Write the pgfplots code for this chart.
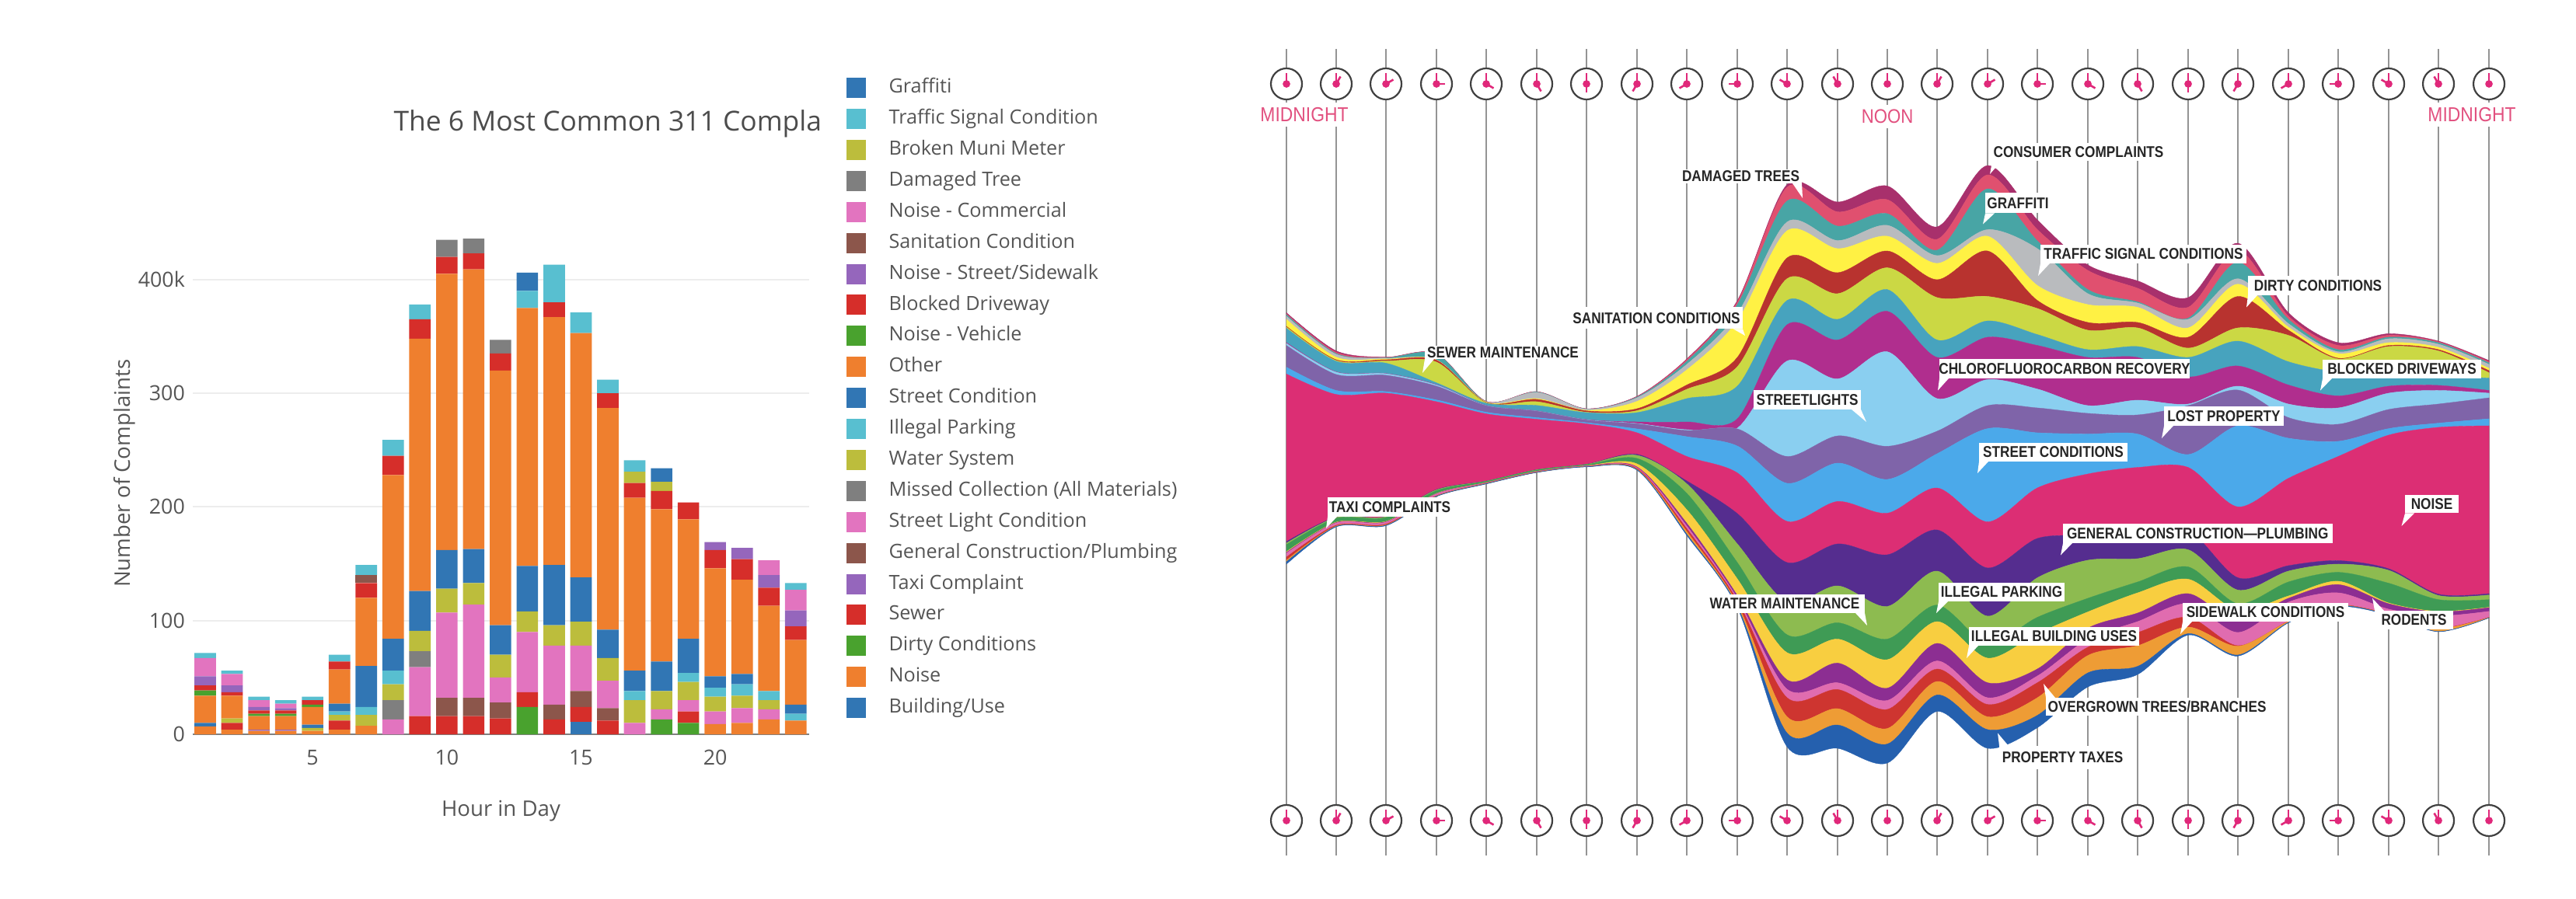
\documentclass[border=0pt]{standalone}
\usepackage{fontspec}
\usepackage{pgfplots}
\usepackage{pgfplotstable}
\usepgfplotslibrary{fillbetween}
\pgfplotsset{compat=1.18}
\setmainfont{Open Sans}
\newfontfamily\labfont[FakeStretch=0.86]{Liberation Sans}
\newfontfamily\pinkfont[FakeStretch=0.88]{Liberation Sans}

% bar chart palette
\definecolor{cblue}{HTML}{3176B4}
\definecolor{ccyan}{HTML}{58BFD0}
\definecolor{colive}{HTML}{BCBD3C}
\definecolor{cgray}{HTML}{7F7F7F}
\definecolor{cpink}{HTML}{E274BF}
\definecolor{cbrown}{HTML}{8C564B}
\definecolor{cpurple}{HTML}{9566BC}
\definecolor{cred}{HTML}{D62E2A}
\definecolor{cgreen}{HTML}{49A22E}
\definecolor{corange}{HTML}{EF7F2E}
\definecolor{txt}{HTML}{555555}
% stream palette, top band first
\definecolor{s0}{HTML}{A8306C}
\definecolor{s1}{HTML}{E0506F}
\definecolor{s2}{HTML}{48A5A5}
\definecolor{s3}{HTML}{B9BBBE}
\definecolor{s4}{HTML}{FFF144}
\definecolor{s5}{HTML}{B8332F}
\definecolor{s6}{HTML}{CBD844}
\definecolor{s7}{HTML}{47A3BE}
\definecolor{s8}{HTML}{B02E8E}
\definecolor{s9}{HTML}{8ACFF0}
\definecolor{s10}{HTML}{7F64A9}
\definecolor{s11}{HTML}{4BA9EA}
\definecolor{s12}{HTML}{DC2E74}
\definecolor{s13}{HTML}{552D8F}
\definecolor{s14}{HTML}{8DBB50}
\definecolor{s15}{HTML}{3F9B55}
\definecolor{s16}{HTML}{F8CE40}
\definecolor{s17}{HTML}{8C2E92}
\definecolor{s18}{HTML}{E06CAF}
\definecolor{s19}{HTML}{CE3530}
\definecolor{s20}{HTML}{EE9C35}
\definecolor{s21}{HTML}{2560AE}
\definecolor{clockpink}{HTML}{E0287A}
\definecolor{midpink}{HTML}{E2507F}

% hour, then the 21 complaint types from the bottom of the stack up
\pgfplotstableread{
h  B  N  D  S  T  G  L  M  W  I  C  O   V   K  R  A  P  E  U  F   Z
1  0  7  0  0  0  0  0  0  0  0  3  24  4.5 4.5 8 0  16 0  0  4.5 0
2  0  4  0  6  0  0  0  0  4  0  0  20  0   3  6  0  10 0  0  3   0
3  0  3  0  0  1  0  0  0  0  0  0  12  2   3  3  0  6  0  0  3   0
4  0  3  0  0  1  0  0  0  0  0  0  12  2   3  2  0  4  0  0  3   0
5  0  3  0  0  0  0  0  0  2.5 0 3  15.5 2  4  0  0  0  0  0  3   0
6  0  4  0  8  0  0  0  0  5  3  7  30  0   7  0  0  0  0  0  6   0
7  0  7.5 0 0  0  0  0  0  9.5 7 36 60  0   13 0  7  0  0  0  9   0
8  0  0  0  0  0  0  13 17 14 12 28 144 0   17 0  0  0  0  0  14  0
9  0  0  0  16 0  0  43 14 18 0  35 222 0   17 0  0  0  0  0  13  0
10 0  0  0  16 0  16 75 0  21 0  34 243 0   15 0  0  0  15 0  0   0
11 0  0  0  16 0  16 82 0  19 0  30 246 0   14 0  0  0  13 0  0   0
12 0  0  0  14 0  14 22 0  20 0  26 224 0   15 0  0  0  12 0  0   0
13 0  0  24 13 0  0  53 0  18 0  40 227 0   0  0  0  0  0  0  15  16
14 0  0  0  13 0  13 52 0  18 0  53 218 0   13 0  0  0  0  0  33  0
15 11 0  0  13 0  14 40 0  21 0  39 215 0   0  0  0  0  0  0  18  0
16 0  0  0  12 0  11 24 0  20 0  25 195 0   13 0  0  0  0  0  12  0
17 0  0  0  0  0  0  10 0  20 8  18 152 0   13 0  0  0  0  10 10  0
18 0  0  13 0  0  0  9  0  16 0  26 134 0   16 0  0  0  0  8  0   12
19 0  0  10 10 0  0  10 0  16 8  30 105 0   15 0  0  0  0  0  0   0
20 0  9  0  0  0  0  11 0  13 8  10 95  0   16 7  0  0  0  0  0   0
21 0  10 0  0  0  0  13 0  11 10 9  83  0   18 10 0  0  0  0  0   0
22 0  13 0  0  0  0  9  0  8  8  0  75  0   16 11 0  13 0  0  0   0
23 0  12 0  0  0  0  0  0  0  6  8  57  0   12 14 0  18 0  0  6   0
}\bars

% boundaries of the stream, in picture pixels, top edge first
\pgfplotstableread{
x b0 b1 b2 b3 b4 b5 b6 b7 b8 b9 b10 b11 b12 b13 b14 b15 b16 b17 b18 b19 b20 b21 b22
1655 402.5 404 405 407 411 420 421 422.5 441 442 444.6 472.6 481.4 697 699 701 710 711 712 717 721 723 726
1719 451.6 453.4 455 456 459.7 463 464 465 478.6 479 482 502.5 507.7 665.4 666 667 672 672.5 673 676 677 677.5 678
1783 459.7 460 460.5 461 462 463 464.6 467.4 480.7 481 483 504 506 664.7 665 666 671 671.5 672 674.5 675.5 676 676.5
1848 455 455.3 455.6 463 463.3 463.6 466 492.7 495 495.5 497 514.7 517 630 630.5 631.5 635 635.3 635.6 638 638.4 638.7 639
1912 516.5 516.7 517 517.2 517.5 518 518.5 519 521.8 522 522.2 530.5 532.6 619 619.2 619.5 621 621.2 621.4 622 622.3 622.5 622.8
1977 504 504.2 504.5 505 513 514 517 521.8 528.8 529 529.2 537.5 539.6 604.4 604.6 605 606.5 606.7 606.9 607.4 607.7 607.9 608.1
2041 526 526.2 526.4 526.6 528 528.8 530.5 531 540 540.3 540.6 544 545.5 597.4 597.6 598 599.3 599.5 599.7 600.2 600.4 600.6 600.9
2106 510 510.5 511 512 516.5 526 528.5 531 543 545 545.5 552 557 584.7 586 590 597 601 602 603 604 604.5 605
2170 462 463 465 469 476 495.5 501 513 543 553 554 562 587.5 619 622.6 635 656 673.5 677 680.5 684 687.5 689
2235 387 389 392 404 413 460 472 497 539 551 552 574 608.6 661 700 724 745 766.4 770 772.7 777 780 782
2299 237.6 241 258.7 285.7 297 332 358.7 386.7 418 464.6 587.5 622 671 724 775 817 840 875 887 898 922.5 943.5 961
2364 260 272.7 291 309.6 320 351 378 411 437.6 487.7 561 596 645.4 700 754 801.5 822.5 853.4 878.7 887.4 912 933 963
2428 239.4 257 275 290 304 323 344.6 372.7 400.7 452.7 574.4 617 660.5 714 780.5 822.5 849 885.7 901.5 913 937.6 957.6 982
2492 292 308 322 329 339 360 383 437.6 460 513 555 584 628 682 735 778.7 800 828 850.6 861 877 894.4 915.5
2557 213 225 243 295.5 304 323 381.5 413 434 488.5 522 551.6 671.7 731 793 828 847 878.7 898 906.7 922.5 939 963
2621 283 295.5 310 320 367.4 386.7 397 430.6 444.6 500.7 525 557 628 693 743.6 794.5 815.5 861 870 878.7 898 920.7 936.5
2686 341 348 372.7 378 392 415 425 450 460 522 532 558.6 610 689 721 770 787.5 808.5 822.5 833 843.6 866 884
2750 361.5 371 388.5 390 395.5 415 422 446 460 515 534 558.6 601.6 686 719 749 763 789 800 814 831 857.6 868
2815 383 395.5 409.5 411 422 434 448 460 485 520 522 585 601.6 682 707.5 729.6 745.4 764 777 794.5 807 815.5 817.3
2879 313 322 337.6 358.7 365.7 381.5 422 439 471 497 502 548 652.4 743.6 759.4 777 785.7 800 814 831 831.7 843 844.3
2944 402.5 407 411 416.5 421 425 431.6 465.6 495.5 520 537.5 564 615.6 728 735 749 767 770 775 799.7 800 801 801.5
3008 441 444.6 450 452.7 455 461 462 479 509.5 525 546 568 587.5 721.5 726 736.6 748 752.4 763 778.7 779 779.5 780.5
3073 429.5 431.5 434 436 441 444.6 446 479.7 497 506 527 551.6 560 732 734 750.6 776 777 784 790 790.5 791 791.3
3137 439 440 441 443 447 450 451.6 483 496 502.5 520 544.6 550 764.7 766.4 771.7 786.8 787.5 792.7 808.5 809 812.7 813
3202 464 465.5 467 469 474 477 479.7 486.7 502.5 506 512 539 548 764 765.7 771.7 781.5 782 786.8 794.5 794.8 795 795.2
}\stream

% clock positions and hour hand offsets
\pgfplotstableread{
x u v
1655 0 -11
1719 5.5 -9.5
1783 9.5 -5.5
1848 11 0
1912 9.5 5.5
1977 5.5 9.5
2041 0 11
2106 -5.5 9.5
2170 -9.5 5.5
2235 -11 0
2299 -9.5 -5.5
2364 -5.5 -9.5
2428 0 -11
2492 5.5 -9.5
2557 9.5 -5.5
2621 11 0
2686 9.5 5.5
2750 5.5 9.5
2815 0 11
2879 -5.5 9.5
2944 -9.5 5.5
3008 -11 0
3073 -9.5 -5.5
3137 -5.5 -9.5
3202 0 -11
}\clocks

% one boundary of the stream
\newcommand{\edge}[1]{\addplot[draw=none,smooth,name path=b#1,forget plot] table[x=x,y=b#1]{\stream};}
% one band between two boundaries
\newcommand{\band}[2]{\addplot[fill=s#1,draw=s#1,line width=0.1pt,forget plot] fill between[of=b#1 and b#2,on layer=main];}
% white label box: x0 x1 y0 y1 text
\newcommand{\lbl}[5]{%
  \addplot[fill=white,draw=none,forget plot] coordinates {(#1,#3)(#2,#3)(#2,#4)(#1,#4)};
  \node[inner sep=0pt,font=\fontsize{5}{5}\labfont\bfseries,text=black!85] at (axis cs:{(#1+#2)/2},{(#3+#4)/2}) {#5};}
% white callout tail: base x1 y, base x2, tip x y
\newcommand{\tail}[5]{\addplot[fill=white,draw=none,forget plot] coordinates {(#1,#2)(#3,#2)(#4,#5)};}

\pgfplotsset{pixelaxis/.style={
  at={(400pt,6.5pt)}, anchor=south west,
  scale only axis, width=425pt, height=272.5pt,
  xmin=1600, xmax=3300, ymin=40, ymax=1130, y dir=reverse,
  hide axis, clip=false}}

\begin{document}
\begin{tikzpicture}

% ---- left: stacked bars ----
\begin{axis}[
  at={(62pt,52.75pt)}, anchor=south west,
  scale only axis, width=198.25pt, height=164.6pt,
  ybar stacked, bar width=0.8,
  xmin=0.536, xmax=23.5, ymin=0, ymax=450,
  xtick={5,10,15,20}, ytick={0,100,200,300,400},
  yticklabels={0,100,200,300,400k},
  major tick length=0pt,
  axis x line*=bottom, axis y line*=left,
  y axis line style={draw=none},
  x axis line style={draw=black!50,line width=0.6pt,-},
  ymajorgrids, grid style={draw=black!7,line width=0.5pt},
  axis on top=false, clip=false,
  tick label style={font=\fontsize{6.7}{8}\selectfont,text=txt},
  /pgf/number format/assume math mode=true,
  xticklabel style={yshift=-1.5pt},
  yticklabel style={xshift=1pt},
  xlabel={Hour in Day}, ylabel={Number of Complaints},
  label style={font=\fontsize{6.9}{8}\selectfont,text=txt},
  xlabel style={at={(axis description cs:0.5,-0.15)},anchor=center},
  ylabel style={at={(axis description cs:-0.111,0.51)},anchor=center},
  title={The 6 Most Common 311 Compla},
  title style={at={(axis description cs:0.325,1.2)},anchor=west,yshift=-7pt,
    font=\fontsize{8.85}{10}\selectfont,text=black!70,inner sep=0pt},
  reverse legend, legend cell align=left,
  legend image code/.code={\fill[#1,draw=none] (0pt,-3.25pt) rectangle (6.4pt,3.25pt);},
  legend style={at={(axis description cs:1.059,1.295)},anchor=north west,
    draw=none,fill=none,inner sep=0pt,row sep=0pt,column sep=7.35pt,
    font=\fontsize{6.3}{8}\selectfont,text=txt,
    nodes={inner sep=0pt,minimum height=9.975pt,anchor=west}},
]
\addplot[fill=cblue,draw=none] table[x=h,y=B]{\bars}; \addlegendentry{Building/Use}
\addplot[fill=corange,draw=none] table[x=h,y=N]{\bars}; \addlegendentry{Noise}
\addplot[fill=cgreen,draw=none] table[x=h,y=D]{\bars}; \addlegendentry{Dirty Conditions}
\addplot[fill=cred,draw=none] table[x=h,y=S]{\bars}; \addlegendentry{Sewer}
\addplot[fill=cpurple,draw=none] table[x=h,y=T]{\bars}; \addlegendentry{Taxi Complaint}
\addplot[fill=cbrown,draw=none] table[x=h,y=G]{\bars}; \addlegendentry{General Construction/Plumbing}
\addplot[fill=cpink,draw=none] table[x=h,y=L]{\bars}; \addlegendentry{Street Light Condition}
\addplot[fill=cgray,draw=none] table[x=h,y=M]{\bars}; \addlegendentry{Missed Collection (All Materials)}
\addplot[fill=colive,draw=none] table[x=h,y=W]{\bars}; \addlegendentry{Water System}
\addplot[fill=ccyan,draw=none] table[x=h,y=I]{\bars}; \addlegendentry{Illegal Parking}
\addplot[fill=cblue,draw=none] table[x=h,y=C]{\bars}; \addlegendentry{Street Condition}
\addplot[fill=corange,draw=none] table[x=h,y=O]{\bars}; \addlegendentry{Other}
\addplot[fill=cgreen,draw=none] table[x=h,y=V]{\bars}; \addlegendentry{Noise - Vehicle}
\addplot[fill=cred,draw=none] table[x=h,y=K]{\bars}; \addlegendentry{Blocked Driveway}
\addplot[fill=cpurple,draw=none] table[x=h,y=R]{\bars}; \addlegendentry{Noise - Street/Sidewalk}
\addplot[fill=cbrown,draw=none] table[x=h,y=A]{\bars}; \addlegendentry{Sanitation Condition}
\addplot[fill=cpink,draw=none] table[x=h,y=P]{\bars}; \addlegendentry{Noise - Commercial}
\addplot[fill=cgray,draw=none] table[x=h,y=E]{\bars}; \addlegendentry{Damaged Tree}
\addplot[fill=colive,draw=none] table[x=h,y=U]{\bars}; \addlegendentry{Broken Muni Meter}
\addplot[fill=ccyan,draw=none] table[x=h,y=F]{\bars}; \addlegendentry{Traffic Signal Condition}
\addplot[fill=cblue,draw=none] table[x=h,y=Z]{\bars}; \addlegendentry{Graffiti}
\end{axis}

% ---- right: stream graph, axis units are picture pixels ----
\begin{axis}[pixelaxis]
% hour lines
\addplot[black!42,line width=0.35pt,forget plot,quiver={u=0,v=1038}] table[x=x,y expr=63]{\clocks};

\edge{0}\edge{1}\edge{2}\edge{3}\edge{4}\edge{5}\edge{6}\edge{7}\edge{8}\edge{9}\edge{10}
\edge{11}\edge{12}\edge{13}\edge{14}\edge{15}\edge{16}\edge{17}\edge{18}\edge{19}\edge{20}\edge{21}\edge{22}
\band{0}{1}\band{1}{2}\band{2}{3}\band{3}{4}\band{4}{5}\band{5}{6}\band{6}{7}\band{7}{8}
\band{8}{9}\band{9}{10}\band{10}{11}\band{11}{12}\band{12}{13}\band{13}{14}\band{14}{15}
\band{15}{16}\band{16}{17}\band{17}{18}\band{18}{19}\band{19}{20}\band{20}{21}\band{21}{22}

% clock faces, top and bottom rows
\addplot[only marks,mark=*,mark size=5pt,mark options={fill=white,draw=black!75,line width=0.55pt},forget plot] table[x=x,y expr=108]{\clocks};
\addplot[only marks,mark=*,mark size=5pt,mark options={fill=white,draw=black!75,line width=0.55pt},forget plot] table[x=x,y expr=1056]{\clocks};

% pink time labels
\node[fill=white,inner xsep=1pt,inner ysep=1.5pt,text=midpink,font=\fontsize{6.5}{7}\pinkfont] at (axis cs:1678,147.5) {MIDNIGHT};
\node[fill=white,inner xsep=1pt,inner ysep=1.5pt,text=midpink,font=\fontsize{6.3}{7}\pinkfont] at (axis cs:2428,150) {NOON};
\node[fill=white,inner xsep=1pt,inner ysep=1.5pt,text=midpink,font=\fontsize{6.5}{7}\pinkfont] at (axis cs:3180,147.5) {MIDNIGHT};

% callouts
\tail{2306}{236}{2318}{2319}{255}\lbl{2161}{2318}{218}{236}{DAMAGED TREES}
\tail{2230}{423.5}{2242}{2245}{432}\lbl{2020}{2242}{395}{423.5}{SANITATION CONDITIONS}
\tail{1833}{462}{1845}{1830}{480}\lbl{1833}{2034}{445}{462}{SEWER MAINTENANCE}
\tail{2382}{527}{2394}{2401}{543}\lbl{2256}{2394}{502}{527}{STREETLIGHTS}
\tail{1708}{665}{1720}{1706}{680}\lbl{1708}{1868}{640}{665}{TAXI COMPLAINTS}
\tail{2387}{789}{2399}{2402}{805}\lbl{2193}{2399}{765}{789}{WATER MAINTENANCE}
\tail{2563}{207}{2575}{2560}{224}\lbl{2563}{2785}{184}{207}{CONSUMER COMPLAINTS}
\tail{2554}{274.5}{2566}{2551}{288.5}\lbl{2554}{2638}{248}{274.5}{GRAFFITI}
\tail{2625}{339}{2637}{2622}{355}\lbl{2625}{2890}{315}{339}{TRAFFIC SIGNAL CONDITIONS}
\tail{2892}{380}{2904}{2890}{395.5}\lbl{2892}{3072}{355}{380}{DIRTY CONDITIONS}
\tail{2495}{487}{2507}{2493}{502.5}\lbl{2495}{2817}{462}{487}{CHLOROFLUOROCARBON RECOVERY}
\tail{2784}{548}{2796}{2781}{564}\lbl{2784}{2938}{523.5}{548}{LOST PROPERTY}
\tail{2988}{487}{3000}{2985}{502.5}\lbl{2988}{3192}{463}{487}{BLOCKED DRIVEWAYS}
\tail{2546}{594}{2558}{2544}{609}\lbl{2546}{2737}{570}{594}{STREET CONDITIONS}
\tail{3094}{660.5}{3106}{3089.5}{677}\lbl{3094}{3163}{636.6}{660.5}{NOISE}
\tail{2654}{699}{2666}{2651}{714.5}\lbl{2654}{3000.5}{674}{699}{GENERAL CONSTRUCTION—PLUMBING}
\tail{2494}{774}{2506}{2491}{789}\lbl{2494}{2656}{749.6}{774}{ILLEGAL PARKING}
\tail{2533}{831}{2545}{2530}{847}\lbl{2533}{2752}{807}{831}{ILLEGAL BUILDING USES}
\tail{2808}{800}{2820}{2805}{816}\lbl{2808}{3021}{776}{800}{SIDEWALK CONDITIONS}
\tail{3055}{786}{3067}{3052}{770}\lbl{3055}{3156}{786}{810}{RODENTS}
\tail{2632}{898}{2644}{2629}{880}\lbl{2632}{2918}{898}{921}{OVERGROWN TREES/BRANCHES}
\tail{2572}{960}{2584}{2570}{943.5}\lbl{2572}{2735}{960}{990}{PROPERTY TAXES}
\end{axis}

% clock hands: marks of the axis above are drawn last, so these need an axis of their own
\begin{axis}[pixelaxis]
\addplot[clockpink,line width=0.5pt,forget plot,quiver={u=0,v=-14}] table[x=x,y expr=108]{\clocks};
\addplot[clockpink,line width=0.5pt,forget plot,quiver={u=0,v=-14}] table[x=x,y expr=1056]{\clocks};
\addplot[clockpink,line width=0.65pt,forget plot,quiver={u=\thisrow{u},v=\thisrow{v}}] table[x=x,y expr=108]{\clocks};
\addplot[clockpink,line width=0.65pt,forget plot,quiver={u=\thisrow{u},v=\thisrow{v}}] table[x=x,y expr=1056]{\clocks};
\addplot[only marks,mark=*,mark size=1pt,clockpink,forget plot] table[x=x,y expr=108]{\clocks};
\addplot[only marks,mark=*,mark size=1pt,clockpink,forget plot] table[x=x,y expr=1056]{\clocks};
\end{axis}

% page size equals the reference's proportions
\pgfresetboundingbox
\useasboundingbox (0,0) rectangle (828.5pt,289pt);
\end{tikzpicture}
\end{document}
